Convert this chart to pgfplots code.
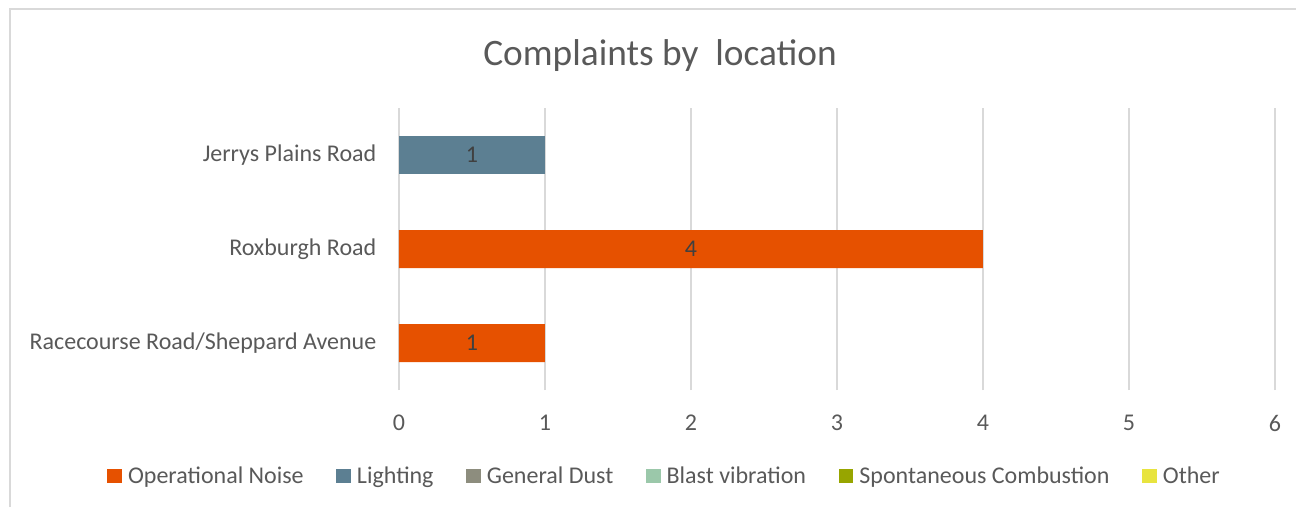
\documentclass[border=0pt]{standalone}
\usepackage{fontspec}
\setmainfont{Carlito}
\usepackage{pgfplots}
\pgfplotsset{compat=1.18}

\definecolor{opnoise}{HTML}{E65100}
\definecolor{lighting}{HTML}{5C7F92}
\definecolor{dust}{HTML}{8D8D7E}
\definecolor{blast}{HTML}{9BC8AA}
\definecolor{spont}{HTML}{97A500}
\definecolor{other}{HTML}{E8E43F}
\definecolor{txt}{HTML}{595959}
\definecolor{lbl}{HTML}{404040}
\definecolor{gridc}{HTML}{D9D9D9}

\begin{document}
\begin{tikzpicture}
% picture size 1296 x 507 px at 0.75pt per px
\useasboundingbox (0,0) rectangle (972pt,380.25pt);
\draw[gridc, line width=1.2pt] (7.5pt,0) -- (7.5pt,373.5pt) -- (972pt,373.5pt);
\begin{axis}[
    at={(299.25pt,87.75pt)}, anchor=south west,
    scale only axis,
    width=657pt, height=211.5pt,
    xmin=0, xmax=6,
    ymin=-0.5, ymax=2.5,
    xtick={0,1,2,3,4,5,6},
    ytick={0,1,2},
    yticklabels={Racecourse Road/Sheppard Avenue, Roxburgh Road, Jerrys Plains Road},
    xmajorgrids,
    grid style={draw=gridc, line width=1.2pt},
    axis line style={draw=none},
    major tick style={draw=none},
    tick label style={font=\fontsize{18}{21}\selectfont, text=txt},
    /pgf/number format/assume math mode=true,
    xticklabel style={yshift=-15.5pt},
    yticklabel style={xshift=-13.5pt},
    title={Complaints by\ \ location},
    title style={at={(0.298,1.157)}, anchor=center, font=\fontsize{28}{32}\selectfont, text=txt},
    legend style={at={(0.302,-0.305)}, anchor=center, draw=none, fill=none,
        legend columns=6, font=\fontsize{18}{21}\selectfont, text=txt,
        /tikz/every even column/.append style={column sep=24.5pt},
        /tikz/every odd column/.append style={column sep=4.5pt},
        nodes={inner sep=0pt}},
    legend image code/.code={\fill[#1, draw=none] (0pt,-5.5pt) rectangle (11pt,5.5pt);},
]
\addplot[xbar, bar width=28.5pt, bar shift=0pt, fill=opnoise, draw=none]
    coordinates {(1,0) (4,1)};
\addlegendentry{Operational Noise}
\addplot[xbar, bar width=28.5pt, bar shift=0pt, fill=lighting, draw=none]
    coordinates {(1,2)};
\addlegendentry{Lighting}
\addlegendimage{fill=dust, draw=none}
\addlegendentry{General Dust}
\addlegendimage{fill=blast, draw=none}
\addlegendentry{Blast vibration}
\addlegendimage{fill=spont, draw=none}
\addlegendentry{Spontaneous Combustion}
\addlegendimage{fill=other, draw=none}
\addlegendentry{Other}
% data labels, centred in the bars
\addplot[draw=none, mark=none, forget plot, nodes near coords, point meta=explicit symbolic,
    every node near coord/.style={anchor=center, font=\fontsize{18}{21}\selectfont, text=lbl}]
    coordinates {(0.5,0)[1] (2,1)[4] (0.5,2)[1]};
\end{axis}
\end{tikzpicture}
\end{document}
